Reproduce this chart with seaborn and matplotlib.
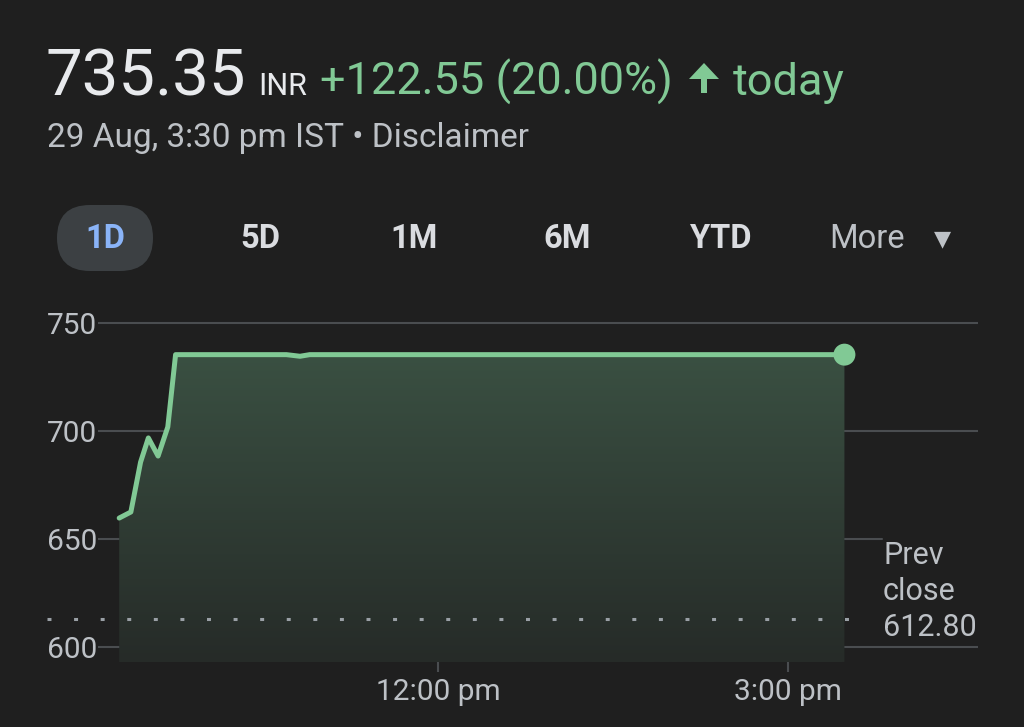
import numpy as np
import pandas as pd
import matplotlib
matplotlib.use("Agg")
import matplotlib.pyplot as plt
import seaborn as sns
from matplotlib.patches import FancyBboxPatch, PathPatch, FancyArrow
from matplotlib.colors import LinearSegmentedColormap
import matplotlib.transforms as mtransforms

# ---- data ----
time_minutes = [556, 562, 567, 571, 576, 581, 585, 642, 649, 654, 929]   # minutes after midnight
prices = [659.7, 662.5, 685.6, 696.8, 688.4, 701.9, 735.35, 735.35, 734.6, 735.35, 735.35]
prev_close = 612.80
y_ticks = [600, 650, 700, 750]
x_ticks = [720, 900]
x_tick_labels = ["12:00 pm", "3:00 pm"]
tabs = ["1D", "5D", "1M", "6M", "YTD", "More"]

BG = "#1f1f1f"
GREEN = "#81c995"
GRID = "#4a4d50"
TXT = "#bdc1c6"

sns.set_theme(style="dark")
plt.rcParams["font.family"] = ["Roboto", "DejaVu Sans"]

fig = plt.figure(figsize=(10.24, 7.27), dpi=100, facecolor=BG)

# overlay axes in pixel coordinates for header
ov = fig.add_axes([0, 0, 1, 1], zorder=0)
ov.set_xlim(0, 1024)
ov.set_ylim(727, 0)
ov.axis("off")
ov.set_facecolor("none")

ov.text(46, 95, "735.35", fontsize=47, color="#e8eaed", va="baseline", ha="left")
ov.text(258, 95, "INR", fontsize=22, color="#e8eaed", va="baseline", ha="left")
ov.text(320, 95, "+122.55 (20.00%)", fontsize=32.5, color=GREEN, va="baseline", ha="left")
ov.add_patch(FancyArrow(704, 93, 0, -30, width=6, head_width=30, head_length=16,
                        length_includes_head=True, color=GREEN, lw=0))
ov.text(733, 95, "today", fontsize=32.5, color=GREEN, va="baseline", ha="left")
ov.text(47, 147, "29 Aug, 3:30 pm IST • Disclaimer", fontsize=24, color=TXT,
        va="baseline", ha="left")

# tabs
pill = FancyBboxPatch((57, 205), 96, 66, boxstyle="round,pad=0,rounding_size=33",
                      facecolor="#3c4043", edgecolor="none")
ov.add_patch(pill)
tab_x = [105, 260, 414, 567, 721, 867]
for name, tx in zip(tabs, tab_x):
    if name == "1D":
        ov.text(tx, 239, name, fontsize=23.5, color="#8ab4f8", ha="center", va="center",
                fontweight="bold")
    elif name == "More":
        ov.text(tx, 239, name, fontsize=23.5, color=TXT, ha="center", va="center")
    else:
        ov.text(tx, 239, name, fontsize=23.5, color="#dadce0", ha="center", va="center",
                fontweight="bold")
ov.text(942, 239, "▼", fontsize=16, color=TXT, ha="center", va="center",
        family=["DejaVu Sans"])

# chart axes
ax = fig.add_axes([98 / 1024, 1 - 665 / 727, 880 / 1024, 365 / 727], zorder=2)
ax.set_facecolor("none")
for s in ax.spines.values():
    s.set_visible(False)
ax.grid(False)

df = pd.DataFrame({"t": time_minutes, "price": prices})

# gridlines
for yv in y_ticks:
    xmax = 0.891 if yv == 650 else 1.0
    ax.axhline(yv, xmin=0, xmax=xmax, color=GRID, lw=1.5, zorder=1)

# gradient fill
fill_bottom = 593
poly = ax.fill_between(df["t"], df["price"], fill_bottom, facecolor="none", edgecolor="none")
path = poly.get_paths()[0]
clip = PathPatch(path, transform=ax.transData, facecolor="none", edgecolor="none")
ax.add_patch(clip)
cmap = LinearSegmentedColormap.from_list("g", ["#262b28", "#3a5042"])
grad = np.linspace(0, 1, 256).reshape(-1, 1)
im = ax.imshow(grad, extent=[min(time_minutes), max(time_minutes), fill_bottom, max(prices)],
               origin="lower", aspect="auto", cmap=cmap, zorder=1.5)
im.set_clip_path(clip)

# prev close dotted line
trans = mtransforms.blended_transform_factory(ax.transAxes, ax.transData)
ax.plot([-0.058, 0.877], [prev_close, prev_close], transform=trans, color="#9aa0a6",
        lw=2.2, linestyle=(0, (1.3, 7.4)), solid_capstyle="butt", dash_capstyle="butt",
        clip_on=False, zorder=2)

# price line & end marker
sns.lineplot(data=df, x="t", y="price", ax=ax, color=GREEN, lw=3.6, zorder=4)
sns.scatterplot(data=df.iloc[[-1]], x="t", y="price", ax=ax, color=GREEN, s=250,
                edgecolor="none", zorder=5, legend=False)
ax.set_xlabel("")
ax.set_ylabel("")
ax.set_xlim(545.1, 997.7)
ax.set_ylim(591.67, 760.65)

# ticks
ax.set_yticks(y_ticks)
ax.set_yticklabels([str(v) for v in y_ticks])
ax.tick_params(axis="y", length=0, pad=36.7, labelsize=21.5, labelcolor=TXT)
for lab in ax.get_yticklabels():
    lab.set_ha("left")
ax.set_xticks(x_ticks)
ax.set_xticklabels(x_tick_labels)
ax.tick_params(axis="x", length=0, pad=9, labelsize=21.5, labelcolor=TXT)
ax.vlines(x_ticks, 588.4, 600, color=GRID, lw=1.5, clip_on=False, zorder=1)

# prev close label
for i, line in enumerate(["Prev", "close", f"{prev_close:.2f}"]):
    ov.text(883, 555 + 36 * i, line, fontsize=22, color=TXT, ha="left", va="center")

fig.savefig("out.png", dpi=100, facecolor=BG)
